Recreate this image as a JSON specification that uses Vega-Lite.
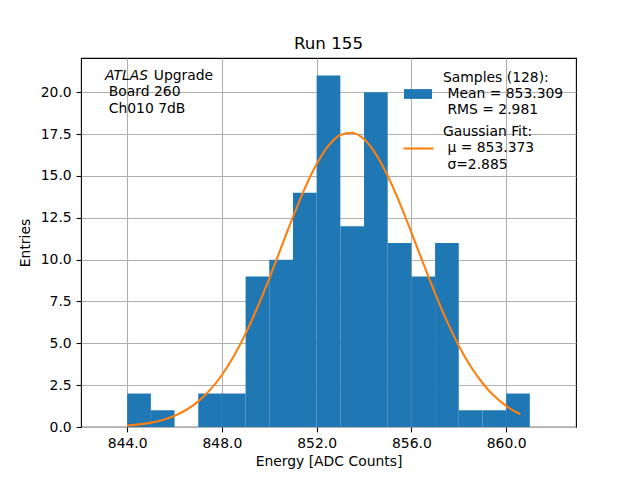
{
  "$schema": "https://vega.github.io/schema/vega-lite/v6.json",
  "width": 495,
  "height": 369,
  "autosize": {"type": "none"},
  "padding": {"left": 81, "top": 58, "right": 64, "bottom": 53},
  "background": "white",
  "title": {"text": "Run 155", "fontSize": 16.7, "fontWeight": "normal", "font": "DejaVu Sans", "color": "black", "frame": "group", "offset": 5},
  "config": {
    "view": {"stroke": "black", "strokeWidth": 1.1},
    "font": "DejaVu Sans",
    "axis": {
      "domain": false,
      "grid": true,
      "gridColor": "#b0b0b0",
      "gridWidth": 1.1,
      "gridOpacity": 1,
      "tickColor": "black",
      "tickSize": 4.9,
      "tickWidth": 1.1,
      "labelColor": "black",
      "labelFont": "DejaVu Sans",
      "labelFontSize": 13.9,
      "labelPadding": 4.9,
      "titleColor": "black",
      "titleFont": "DejaVu Sans",
      "titleFontSize": 13.9,
      "titleFontWeight": "normal",
      "zindex": 1
    },
    "legend": {
      "labelFont": "DejaVu Sans",
      "labelFontSize": 13.9,
      "labelColor": "black",
      "labelLimit": 400,
      "labelOffset": 11,
      "padding": 0
    }
  },
  "datasets": {
    "hist": [
      {"lo": 844, "hi": 845, "n": 2},
      {"lo": 845, "hi": 846, "n": 1},
      {"lo": 847, "hi": 848, "n": 2},
      {"lo": 848, "hi": 849, "n": 2},
      {"lo": 849, "hi": 850, "n": 9},
      {"lo": 850, "hi": 851, "n": 10},
      {"lo": 851, "hi": 852, "n": 14},
      {"lo": 852, "hi": 853, "n": 21},
      {"lo": 853, "hi": 854, "n": 12},
      {"lo": 854, "hi": 855, "n": 20},
      {"lo": 855, "hi": 856, "n": 11},
      {"lo": 856, "hi": 857, "n": 9},
      {"lo": 857, "hi": 858, "n": 11},
      {"lo": 858, "hi": 859, "n": 1},
      {"lo": 859, "hi": 860, "n": 1},
      {"lo": 860, "hi": 861, "n": 2}
    ],
    "fit": [
      {"x": 844.0, "y": 0.09},
      {"x": 844.5, "y": 0.155},
      {"x": 845.0, "y": 0.261},
      {"x": 845.5, "y": 0.425},
      {"x": 846.0, "y": 0.671},
      {"x": 846.5, "y": 1.03},
      {"x": 847.0, "y": 1.534},
      {"x": 847.5, "y": 2.218},
      {"x": 848.0, "y": 3.107},
      {"x": 848.5, "y": 4.226},
      {"x": 849.0, "y": 5.58},
      {"x": 849.5, "y": 7.148},
      {"x": 850.0, "y": 8.886},
      {"x": 850.5, "y": 10.72},
      {"x": 851.0, "y": 12.55},
      {"x": 851.5, "y": 14.26},
      {"x": 852.0, "y": 15.71},
      {"x": 852.5, "y": 16.81},
      {"x": 853.0, "y": 17.45},
      {"x": 853.5, "y": 17.58},
      {"x": 854.0, "y": 17.19},
      {"x": 854.5, "y": 16.31},
      {"x": 855.0, "y": 15.01},
      {"x": 855.5, "y": 13.41},
      {"x": 856.0, "y": 11.63},
      {"x": 856.5, "y": 9.78},
      {"x": 857.0, "y": 7.99},
      {"x": 857.5, "y": 6.33},
      {"x": 858.0, "y": 4.86},
      {"x": 858.5, "y": 3.63},
      {"x": 859.0, "y": 2.63},
      {"x": 859.5, "y": 1.85},
      {"x": 860.0, "y": 1.26},
      {"x": 860.6, "y": 0.76}
    ],
    "one": [{}]
  },
  "layer": [
    {
      "data": {"name": "hist"},
      "mark": {"type": "rect"},
      "encoding": {
        "x": {
          "field": "lo", "type": "quantitative",
          "scale": {"domain": [842.05, 862.95], "nice": false, "zero": false},
          "axis": {"title": "Energy [ADC Counts]", "values": [844, 848, 852, 856, 860], "format": ".1f", "titlePadding": 4}
        },
        "x2": {"field": "hi"},
        "y": {
          "field": "n", "type": "quantitative",
          "scale": {"domain": [0, 22.05], "nice": false},
          "axis": {"title": "Entries", "values": [0, 2.5, 5, 7.5, 10, 12.5, 15, 17.5, 20], "format": ".1f", "titlePadding": 8}
        },
        "y2": {"datum": 0},
        "fill": {
          "datum": "Samples (128):|\u200b Mean = 853.309|\u200b RMS = 2.981",
          "type": "nominal",
          "scale": {"range": ["#1f77b4"]},
          "legend": {
            "title": null,
            "orient": "none",
            "legendX": 323,
            "legendY": 22,
            "symbolType": "M-1,-0.35L1,-0.35L1,0.35L-1,0.35Z",
            "symbolSize": 784,
            "symbolStrokeWidth": 0,
            "labelExpr": "split(datum.label, '|')",
            "encode": {"labels": {"update": {"lineHeight": {"value": 16.3}, "dy": {"value": -16.3}}}}
          }
        }
      }
    },
    {
      "data": {"name": "fit"},
      "mark": {"type": "line", "strokeWidth": 2.1, "interpolate": "monotone"},
      "encoding": {
        "x": {"field": "x", "type": "quantitative"},
        "y": {"field": "y", "type": "quantitative"},
        "stroke": {
          "datum": "Gaussian Fit:|\u200b μ = 853.373|\u200b σ=2.885",
          "type": "nominal",
          "scale": {"range": ["#ff7f0e"]},
          "legend": {
            "title": null,
            "orient": "none",
            "legendX": 321,
            "legendY": 74,
            "symbolType": "stroke",
            "symbolSize": 900,
            "symbolStrokeWidth": 2.1,
            "labelOffset": 8,
            "labelExpr": "split(datum.label, '|')",
            "encode": {"labels": {"update": {"lineHeight": {"value": 16.3}, "dy": {"value": -16.3}}}}
          }
        }
      }
    },
    {
      "data": {"name": "one"},
      "mark": {"type": "text", "align": "left", "baseline": "middle", "fontSize": 13.9, "fontStyle": "italic", "color": "black"},
      "encoding": {
        "x": {"datum": 843.06, "type": "quantitative"},
        "y": {"datum": 21.0, "type": "quantitative"},
        "text": {"value": "ATLAS"}
      }
    },
    {
      "data": {"name": "one"},
      "mark": {"type": "text", "align": "left", "baseline": "middle", "fontSize": 13.9, "color": "black"},
      "encoding": {
        "x": {"datum": 845.12, "type": "quantitative"},
        "y": {"datum": 21.0, "type": "quantitative"},
        "text": {"value": "Upgrade"}
      }
    },
    {
      "data": {"name": "one"},
      "mark": {"type": "text", "align": "left", "baseline": "middle", "fontSize": 13.9, "color": "black"},
      "encoding": {
        "x": {"datum": 843.22, "type": "quantitative"},
        "y": {"datum": 20.0, "type": "quantitative"},
        "text": {"value": "Board 260"}
      }
    },
    {
      "data": {"name": "one"},
      "mark": {"type": "text", "align": "left", "baseline": "middle", "fontSize": 13.9, "color": "black"},
      "encoding": {
        "x": {"datum": 843.22, "type": "quantitative"},
        "y": {"datum": 18.99, "type": "quantitative"},
        "text": {"value": "Ch010 7dB"}
      }
    }
  ]
}
